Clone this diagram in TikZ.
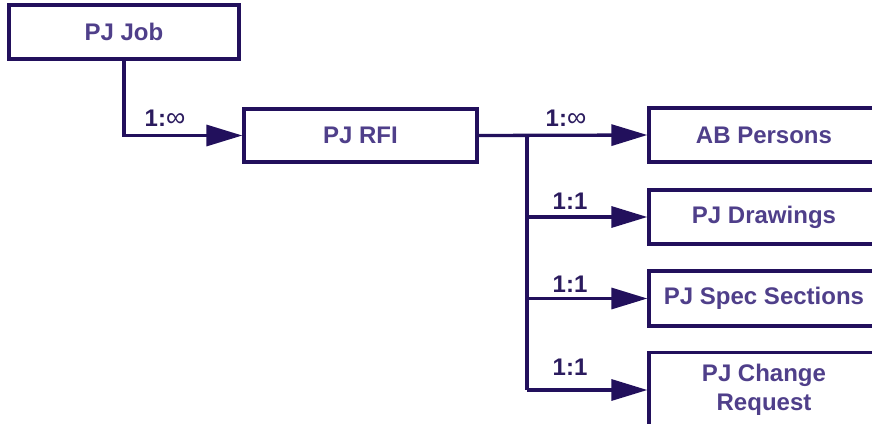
\documentclass[tikz,border=0pt]{standalone}
\usepackage{fontspec}
\setmainfont{Liberation Sans}
\usetikzlibrary{arrows.meta}
\definecolor{linec}{HTML}{22105C}
\definecolor{textc}{HTML}{4F3F8A}
\definecolor{labc}{HTML}{2B1B5E}
\tikzset{
  ent/.style={draw=linec, line width=3.3pt, fill=white, text=textc,
    font=\fontsize{24}{29}\selectfont\bfseries, align=center,
    minimum width=230pt, minimum height=54pt, inner sep=0pt},
  rel/.style={draw=linec, line width=3.3pt, -{Triangle[length=36pt,width=21pt]}},
  card/.style={text=labc, font=\fontsize{24}{28}\selectfont\bfseries, inner sep=0pt},
}
\begin{document}
\begin{tikzpicture}[x=1pt,y=-1pt]
\useasboundingbox (0,0) rectangle (872,423);
\clip (0,0) rectangle (872,423);
\node[ent] (job) at (124,32) {PJ Job};
\node[ent, minimum width=233pt, minimum height=53pt] (rfi) at (360.5,135.5) {PJ RFI};
\node[ent] (ab) at (764,135) {AB Persons};
\node[ent] (dr) at (764,217) {PJ Drawings};
\node[ent, minimum height=55pt] (sp) at (764,298.5) {PJ Spec Sections};
\node[ent, minimum height=74pt] (cr) at (764,389.5) {PJ Change\\Request};
\coordinate (br) at (527,135);
\coordinate (bend) at (527,390);
\draw[rel] (job.south) |- (rfi.west);
\draw[rel] (rfi.east) -- (ab.west);
\draw[draw=linec, line width=3.3pt] (br) -- (bend);
\draw[rel] (br) |- (dr.west);
\draw[rel] (br) |- (sp.west);
\draw[rel] (bend) -- (bend -| cr.west);
\node[card] (l1) at (165,118) {1:{\fontsize{27}{28}\selectfont\mdseries ∞}};
\node[card] (l2) at (566,118) {1:{\fontsize{27}{28}\selectfont\mdseries ∞}};
\node[card] (l3) at (570,201) {1:1};
\node[card] (l4) at (570,284) {1:1};
\node[card] (l5) at (570,367) {1:1};
\end{tikzpicture}
\end{document}
